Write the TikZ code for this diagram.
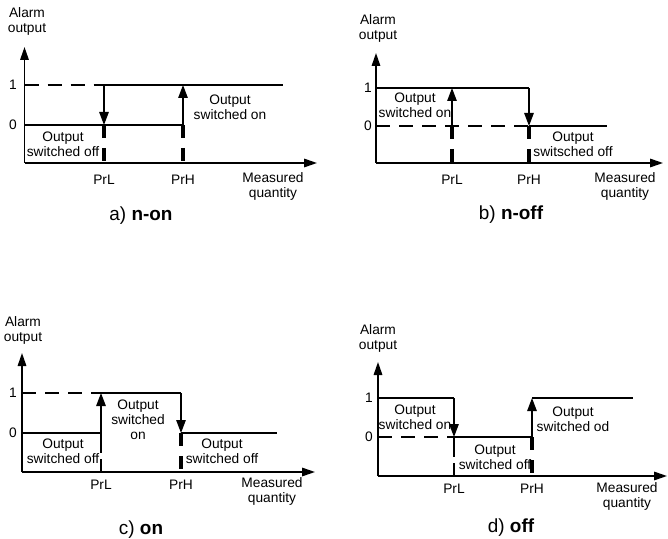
\documentclass[tikz,border=0pt]{standalone}
\usepackage{fontspec}
\setmainfont{Liberation Sans}
\usetikzlibrary{arrows.meta}
\begin{document}
\begin{tikzpicture}[x=1bp,y=-1bp,
 txt/.style={inner sep=0pt,align=center,font=\fontsize{13.8}{15}\selectfont},
 capt/.style={inner sep=0pt,font=\fontsize{19}{20}\selectfont},
 axis/.style={line width=1.6bp,-{Triangle[length=13bp,width=8.5bp]}},
 lvl/.style={line width=1.3bp},
 dlvl/.style={line width=2.8bp,dash pattern=on 14bp off 9bp},
 vthick/.style={line width=3.2bp,dash pattern=on 13bp off 10bp},
 vthin/.style={line width=1.4bp,dash pattern=on 20bp off 6bp},
 sw/.style={line width=1.3bp,-{Triangle[length=13bp,width=9.5bp]}}]
\useasboundingbox (0,0) rectangle (668,539);

% ---------- panel a ----------
\coordinate (aO) at (24.5,163);
\coordinate (aY) at (24.5,47);
\coordinate (aX) at (317,163);
\coordinate (a1) at (24.5,85);
\coordinate (a0) at (24.5,125);
\coordinate (aL1) at (104,85); \coordinate (aL0) at (104,125); \coordinate (aLb) at (104,163);
\coordinate (aH1) at (183,85); \coordinate (aH0) at (183,125); \coordinate (aHb) at (183,163);
\coordinate (aE1) at (283,85);
\draw[axis] (aO) -- (aY);
\draw[axis] (aO) -- (aX);
\draw[dlvl] (a1) -- (aL1);
\draw[lvl] (aL1) -- (aE1);
\draw[lvl] (a0) -- (aH0);
\draw[sw] (aL1) -- (aL0);
\draw[sw] (aH0) -- (aH1);
\draw[vthick] (aL0) -- (aLb);
\draw[vthick] (aH0) -- (aHb);
\node[txt] (aAl) at (27,21) {Alarm\\output};
\node[txt] (aT1) at (13,85) {1};
\node[txt] (aT0) at (13,125) {0};
\node[txt] (aOff) at (63,144.5) {Output\\switched off};
\node[txt] (aOn) at (230,107.5) {Output\\switched on};
\node[txt] (aPrL) at (104,180) {PrL};
\node[txt] (aPrH) at (183,180) {PrH};
\node[txt] (aMq) at (273,186) {Measured\\quantity};
\node[capt] (aCap) at (141,216) {a) \textbf{n-on}};

% ---------- panel b ----------
\coordinate (bO) at (376,163);
\coordinate (bY) at (376,53);
\coordinate (bX) at (663,163);
\coordinate (b1) at (376,88);
\coordinate (b0) at (376,126);
\coordinate (bL1) at (452,88); \coordinate (bL0) at (452,126); \coordinate (bLb) at (452,163);
\coordinate (bH1) at (529,88); \coordinate (bH0) at (529,126); \coordinate (bHb) at (529,163);
\coordinate (bE0) at (607,126);
\draw[axis] (bO) -- (bY);
\draw[axis] (bO) -- (bX);
\draw[lvl] (b1) -- (bH1);
\draw[dlvl] (b0) -- (bH0);
\draw[lvl] (bH0) -- (bE0);
\draw[sw] (bL0) -- (bL1);
\draw[sw] (bH1) -- (bH0);
\draw[vthick] (bL0) -- (bLb);
\draw[vthick] (bH0) -- (bHb);
\node[txt] (bAl) at (378,28) {Alarm\\output};
\node[txt] (bT1) at (368,88) {1};
\node[txt] (bT0) at (368,126) {0};
\node[txt] (bOn) at (415,105.5) {Output\\switched on};
\node[txt] (bOff) at (573,144.5) {Output\\switsched off};
\node[txt] (bPrL) at (452,180) {PrL};
\node[txt] (bPrH) at (529,180) {PrH};
\node[txt] (bMq) at (625,186) {Measured\\quantity};
\node[capt] (bCap) at (511,215) {b) \textbf{n-off}};

% ---------- panel c ----------
\coordinate (cO) at (22,472);
\coordinate (cY) at (22,353);
\coordinate (cX) at (315,472);
\coordinate (c1) at (22,393);
\coordinate (c0) at (22,433);
\coordinate (cL1) at (101,393); \coordinate (cL0) at (101,433); \coordinate (cLb) at (101,472);
\coordinate (cH1) at (181,393); \coordinate (cH0) at (181,433); \coordinate (cHb) at (181,472);
\coordinate (cE0) at (277,433);
\draw[axis] (cO) -- (cY);
\draw[axis] (cO) -- (cX);
\draw[dlvl] (c1) -- (cL1);
\draw[lvl] (cL1) -- (cH1);
\draw[lvl] (c0) -- (cL0);
\draw[lvl] (cH0) -- (cE0);
\draw[sw] (cL0) -- (cL1);
\draw[sw] (cH1) -- (cH0);
\draw[vthin] (cL0) -- (cLb);
\draw[vthick] (cH0) -- (cHb);
\node[txt] (cAl) at (23,330.5) {Alarm\\output};
\node[txt] (cT1) at (13,393) {1};
\node[txt] (cT0) at (13,433) {0};
\node[txt] (cOffL) at (63,451.5) {Output\\switched off};
\node[txt] (cOn) at (138,419.5) {Output\\switched\\on};
\node[txt] (cOffR) at (222,451.5) {Output\\switched off};
\node[txt] (cPrL) at (101,485) {PrL};
\node[txt] (cPrH) at (181,485) {PrH};
\node[txt] (cMq) at (272,491.5) {Measured\\quantity};
\node[capt] (cCap) at (141,530) {c) \textbf{on}};

% ---------- panel d ----------
\coordinate (dO) at (378,476);
\coordinate (dY) at (378,362);
\coordinate (dX) at (667,476);
\coordinate (d1) at (378,398);
\coordinate (d0) at (378,437);
\coordinate (dL1) at (454,398); \coordinate (dL0) at (454,437); \coordinate (dLb) at (454,476);
\coordinate (dH1) at (532,398); \coordinate (dH0) at (532,437); \coordinate (dHb) at (532,476);
\coordinate (dE1) at (633,398);
\draw[axis] (dO) -- (dY);
\draw[axis] (dO) -- (dX);
\draw[lvl] (d1) -- (dL1);
\draw[dlvl] (d0) -- (dL0);
\draw[lvl] (dL0) -- (dH0);
\draw[lvl] (dH1) -- (dE1);
\draw[sw] (dL1) -- (dL0);
\draw[sw] (dH0) -- (dH1);
\draw[vthin] (dL0) -- (dLb);
\draw[vthick] (dH0) -- (dHb);
\node[txt] (dAl) at (378,338.5) {Alarm\\output};
\node[txt] (dT1) at (369,398) {1};
\node[txt] (dT0) at (369,437) {0};
\node[txt] (dOn) at (415,417.5) {Output\\switched on};
\node[txt] (dOff) at (495,457) {Output\\switched off};
\node[txt] (dOd) at (573,419.5) {Output\\switched od};
\node[txt] (dPrL) at (454,489) {PrL};
\node[txt] (dPrH) at (532,489) {PrH};
\node[txt] (dMq) at (627,496.5) {Measured\\quantity};
\node[capt] (dCap) at (511,528) {d) \textbf{off}};
\end{tikzpicture}
\end{document}
